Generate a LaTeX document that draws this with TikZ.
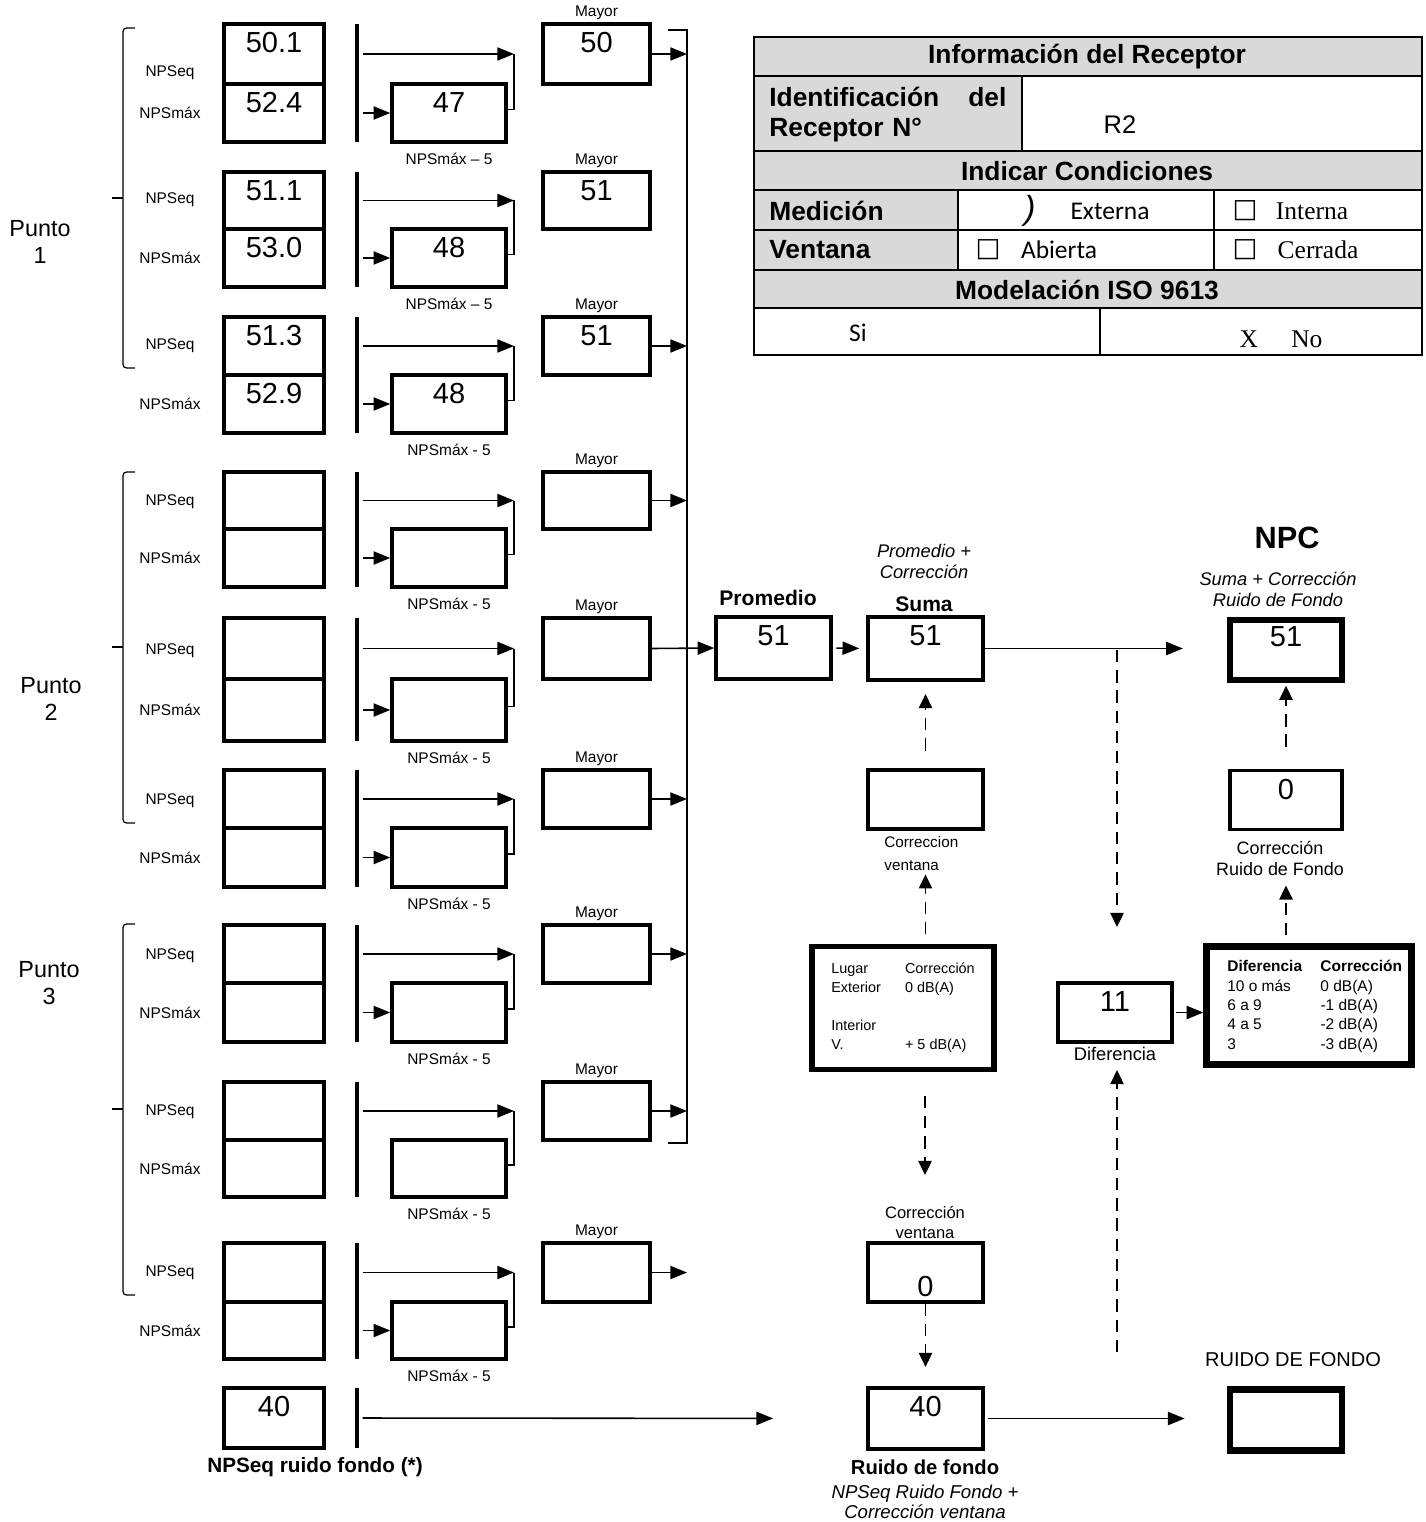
\documentclass[tikz,border=0pt]{standalone}
\usepackage{fontspec}
\setmainfont{Liberation Sans}
\newfontfamily\carlitofont{Carlito}
\newfontfamily\serifont{Liberation Serif}
\newfontfamily\boxfont{DejaVu Sans}
\usepackage{xcolor}
\usetikzlibrary{arrows.meta, positioning, calc}
\definecolor{cellgray}{HTML}{D9D9D9}
\newcommand{\numfont}{\fontsize{16.5}{19}\selectfont}
\newcommand{\tagfont}{\fontsize{8.8}{10.5}\selectfont}
\newcommand{\notefont}{\fontsize{10.4}{12}\selectfont\itshape}
\newcommand{\headfont}{\fontsize{15}{17}\selectfont\bfseries}
\newcommand{\cellfont}{\fontsize{14.5}{17}\selectfont}
\tikzstyle{box} = [rectangle, draw=black, line width=2pt, inner sep=0pt]
\tikzstyle{heavybox} = [box, line width=3.6pt]
\tikzstyle{bar} = [rectangle, fill=black, inner sep=0pt, minimum width=1.9pt]
\tikzstyle{tag} = [font=\tagfont, inner sep=1pt]
\tikzstyle{arrow} = [-{Triangle[length=9.5pt,width=7.5pt]}, line width=0.9pt]
\tikzstyle{dasharrow} = [-{Triangle[length=8pt,width=7.5pt]}, line width=1.1pt,
                         dash pattern=on 7pt off 4.5pt]
\tikzstyle{link} = [line width=0.7pt]
\tikzstyle{grid} = [line width=0.6pt]
\tikzset{val/.style={label={[font=\numfont, anchor=north, inner sep=2pt, yshift=-3.5pt]north:#1}}}

\begin{document}
\begin{tikzpicture}[x=0.2mm, y=-0.2mm]
    \useasboundingbox (0,0) rectangle (1425,1522);

    % puntos
    \foreach \t/\c/\b in {28/198/368, 472/647/823, 924/1109/1295} {
        \draw[link, rounded corners=2pt] (135,\t) -- (123,\t) -- (123,\b) -- (135,\b);
        \draw[link] (123,\c) -- (112,\c);
    }
    \node[font=\fontsize{13.3}{15.4}\selectfont, align=center] (punto1) at (40,241.5) {Punto\\1};
    \node[font=\fontsize{13.3}{15.4}\selectfont, align=center] (punto2) at (51,698.5) {Punto\\2};
    \node[font=\fontsize{13.3}{15.4}\selectfont, align=center] (punto3) at (49,983.5) {Punto\\3};

    \coordinate (coltop) at (687,30);
    \coordinate (colbot) at (687,1143);
    \draw[link, line width=0.9pt] (668,30) -- (coltop) -- (colbot) -- (668,1143);

    % mediciones
    \foreach \r/\t/\m/\b/\eq/\mx/\sm/\my/\ly/\dl in {
        1/24/84/142/50.1/52.4/47/50/73/–,
        2/172/229/287/51.1/53.0/48/51/200/–,
        3/317/375/433/51.3/52.9/48/51/346/-,
        4/472/529/587/{}/{}/{}/{}/502/-,
        5/618/679/741/{}/{}/{}/{}/651/-,
        6/770/828/887/{}/{}/{}/{}/801/-,
        7/925/983/1042/{}/{}/{}/{}/956/-,
        8/1082/1140/1197/{}/{}/{}/{}/1112/-,
        9/1243/1302/1359/{}/{}/{}/{}/1273/-} {
        \node[box, minimum width=20mm, minimum height={(\m-\t)*0.2mm}, val=\eq] (seq\r) at (274,{(\t+\m)/2}) {};
        \node[box, minimum width=20mm, minimum height={(\b-\m)*0.2mm}, val=\mx] (max\r) at (274,{(\m+\b)/2}) {};
        \node[bar, minimum height={(\b-\t)*0.2mm}] (bar\r) at (357,{(\t+\b)/2}) {};
        \node[box, minimum width=22.8mm, minimum height={(\b-\m)*0.2mm}, val=\sm] (sub\r) at (449,{(\m+\b)/2}) {};
        \node[box, minimum width=21.4mm, minimum height={(\m-\t)*0.2mm}, val=\my,
              label={[tag]above:Mayor}] (may\r) at (596.5,{(\t+\m)/2}) {};
        \node[tag] (eqlab\r) at (170,\ly) {NPSeq};
        \node[tag] (mxlab\r) at (170,{(\m+\b)/2}) {NPSmáx};
        \node[tag] (sublab\r) at (449,\b+17) {NPSmáx \dl{} 5};
        \coordinate (top\r) at (514,{(\t+\m)/2});
        \draw[arrow, shorten <=2pt] (bar\r.east |- seq\r) -- (top\r);
        \draw[link] ([yshift=2pt]sub\r.east) -| (top\r);
    }
    \foreach \r in {1,...,7,9}
        \draw[arrow, shorten <=2pt] (bar\r.east |- sub\r) -- (sub\r.west);
    \foreach \r in {1,3,4,6,7,8,9}
        \draw[arrow] (may\r.east) -- (may\r.east -| coltop);

    % ruido de fondo medido
    \node[box, minimum width=20mm, minimum height=12mm, val=40] (bn) at (274,1418) {};
    \node[bar, minimum height=12mm] (bnbar) at (357,1418) {};
    \node[font=\fontsize{11.8}{13}\selectfont\bfseries] (bnlab) at (315,1467) {NPSeq ruido fondo (*)};

    % promedio y suma
    \node[box, minimum width=23mm, minimum height=12.4mm, val=51] (prom) at (773.5,648) {};
    \node[box, minimum width=23mm, minimum height=12.6mm, val=51] (suma) at (925.5,648.5) {};
    \node[font=\fontsize{12}{14}\selectfont\bfseries] (promlab) at (768,598) {Promedio};
    \node[font=\fontsize{12}{14}\selectfont\bfseries] (sumalab) at (924,604) {Suma};
    \node[font=\notefont, align=center] (sumanote) at (924,561.5) {Promedio +\\Corrección};
    \draw[arrow] (may5.east) -- (prom.west);
    \draw[arrow, shorten <=2pt, shorten >=4pt] (prom.east) -- (suma.west);

    \node[heavybox, minimum width=22.4mm, minimum height=12mm, val=51] (npc) at (1286,650) {};
    \node[font=\fontsize{17.5}{20}\selectfont\bfseries] (npclab) at (1287,538) {NPC};
    \node[font=\notefont, align=center] (npcnote) at (1278,589.5) {Suma + Corrección\\Ruido de Fondo};
    \draw[arrow, shorten >=25pt] (suma.east) -- (suma.east -| npc.west);

    % correccion ventana
    \node[box, minimum width=23mm, minimum height=11.8mm] (cw) at (925.5,799.5) {};
    \node[font=\fontsize{8.7}{13}\selectfont, align=left, anchor=west, inner sep=0pt] (cwlab) at (884,853.5) {Correccion\\ventana};
    \draw[dasharrow, shorten <=10pt, shorten >=7pt] (cw.north) -- (suma.south);

    \node[heavybox, line width=3pt, minimum width=36.4mm, minimum height=24.6mm,
          font=\fontsize{8.2}{10.8}\selectfont] (lugar) at (903,1008) {%
        \begin{tabular}{@{}p{42pt}@{}l@{}}
            Lugar & Corrección\\
            Exterior & 0 dB(A)\\
            & \\
            Interior & \\
            V. & + 5 dB(A)
        \end{tabular}};
    \draw[dasharrow, shorten <=5.5pt, shorten >=2pt] (lugar.north -| cw.south) -- (cwlab.south -| cw.south);

    \node[font=\fontsize{9.4}{11.4}\selectfont, align=center] (cw2lab) at (925,1222) {Corrección\\ventana};
    \draw[dasharrow, shorten <=13.5pt, shorten >=14pt] (lugar.south -| cw2lab) -- (cw2lab.north);
    \node[box, minimum width=23mm, minimum height=11.8mm,
          label={[font=\numfont, anchor=south, inner sep=2pt, yshift=1.5pt]south:0}] (cw2) at (925.5,1272.5) {};

    \node[box, minimum width=23mm, minimum height=12.2mm, val=40] (rf) at (925.5,1418.5) {};
    \node[font=\fontsize{11.5}{13}\selectfont\bfseries] (rflab) at (925,1467) {Ruido de fondo};
    \node[font=\fontsize{10.6}{11.4}\selectfont\itshape, align=center] (rfnote) at (925,1502) {NPSeq Ruido Fondo +\\Corrección ventana};
    \draw[dasharrow, shorten >=11pt] (cw2.south) -- (rf.north);
    \draw[arrow, shorten <=2pt, shorten >=53pt] (bnbar.east) -- (rf.west);

    \node[heavybox, minimum width=22.4mm, minimum height=12.2mm] (rfbox) at (1286,1420) {};
    \node[font=\fontsize{11.4}{13}\selectfont] (rfboxlab) at (1293,1360) {RUIDO DE FONDO};
    \draw[arrow, shorten <=2pt, shorten >=24pt] (rf.east) -- (rf.east -| rfbox.west);

    % diferencia y correccion ruido de fondo
    \node[box, minimum width=22.8mm, minimum height=11.8mm, val=11] (dif) at (1115,1012.5) {};
    \node[font=\fontsize{10.4}{12}\selectfont] (diflab) at (1115,1054) {Diferencia};
    \coordinate (split) at (1117,650);
    \coordinate (difin) at (1117,927);
    \coordinate (difbase) at (1117,1352);
    \coordinate (difup) at (1117,1070);
    \draw[dasharrow] (split) -- (difin);
    \draw[dasharrow] (difbase) -- (difup);

    \node[heavybox, minimum width=41mm, minimum height=23.6mm] (dtab) at (1309,1005.5) {};
    \node[anchor=west, inner sep=0pt, font=\fontsize{8.8}{11}\selectfont] (dtabtext) at (1227,1006.5) {%
        \begin{tabular}{@{}p{53pt}@{}l@{}}
            \textbf{Diferencia} & \textbf{Corrección}\\
            10 o más & 0 dB(A)\\
            6 a 9 & -1 dB(A)\\
            4 a 5 & -2 dB(A)\\
            3 & -3 dB(A)
        \end{tabular}};
    \draw[arrow, shorten <=1pt] (dif.east) -- (dif.east -| dtab.west);

    \node[box, minimum width=22.4mm, minimum height=11.8mm, val=0] (npc0) at (1286,800) {};
    \node[font=\fontsize{10.2}{12}\selectfont, align=center] (crfl) at (1280,858.5) {Corrección\\Ruido de Fondo};
    \draw[dasharrow, shorten <=4.5pt, shorten >=2pt] (dtab.north -| npc0) -- (crfl.south -| npc0);
    \draw[dasharrow, shorten <=12.5pt, shorten >=1.5pt] (npc0.north) -- (npc.south);

    % informacion del receptor
    \fill[cellgray] (754,37) rectangle (1422,76);
    \fill[cellgray] (754,76) rectangle (1022,151);
    \fill[cellgray] (754,151) rectangle (1422,190);
    \fill[cellgray] (754,190) rectangle (958,270);
    \fill[cellgray] (754,270) rectangle (1422,308);
    \draw[grid] (754,37) rectangle (1422,355);
    \foreach \y in {76,151,190,230,270,308}
        \draw[grid] (754,\y) -- (1422,\y);
    \draw[grid] (1022,76) -- (1022,151);
    \draw[grid] (958,190) -- (958,270);
    \draw[grid] (1214,190) -- (1214,270);
    \draw[grid] (1100,308) -- (1100,355);

    \node[font=\headfont] (info) at (1087,57) {Información del Receptor};
    \node[font=\headfont, text width=47.4mm, align=left, anchor=west, inner sep=0pt] (ident) at (769,115) {Identificación\hfill del\\Receptor N°};
    \node[font=\cellfont] (rec) at (1120,125) {R2};
    \node[font=\headfont] (cond) at (1087,171) {Indicar Condiciones};
    \node[font=\headfont, anchor=west, inner sep=0pt] (medic) at (769,211) {Medición};
    \node[font=\fontsize{19}{20}\selectfont\itshape] (tick) at (1030,211) {)};
    \node[font=\cellfont\carlitofont] (ext) at (1110,211) {Externa};
    \node[font=\fontsize{15}{17}\selectfont\boxfont\bfseries] (boxint) at (1245,211) {□};
    \node[font=\cellfont\serifont] (int) at (1312,211) {Interna};
    \node[font=\headfont, anchor=west, inner sep=0pt] (vent) at (769,250) {Ventana};
    \node[font=\fontsize{15}{17}\selectfont\boxfont\bfseries] (boxab) at (988,250) {□};
    \node[font=\cellfont\carlitofont] (ab) at (1059,250) {Abierta};
    \node[font=\fontsize{15}{17}\selectfont\boxfont\bfseries] (boxce) at (1245,250) {□};
    \node[font=\cellfont\serifont] (ce) at (1318,250) {Cerrada};
    \node[font=\headfont] (iso) at (1087,290) {Modelación ISO 9613};
    \node[font=\cellfont\carlitofont] (si) at (858,333) {Si};
    \node[font=\cellfont\serifont] (no) at (1281,339) {X\hspace{19pt}No};
\end{tikzpicture}
\end{document}
